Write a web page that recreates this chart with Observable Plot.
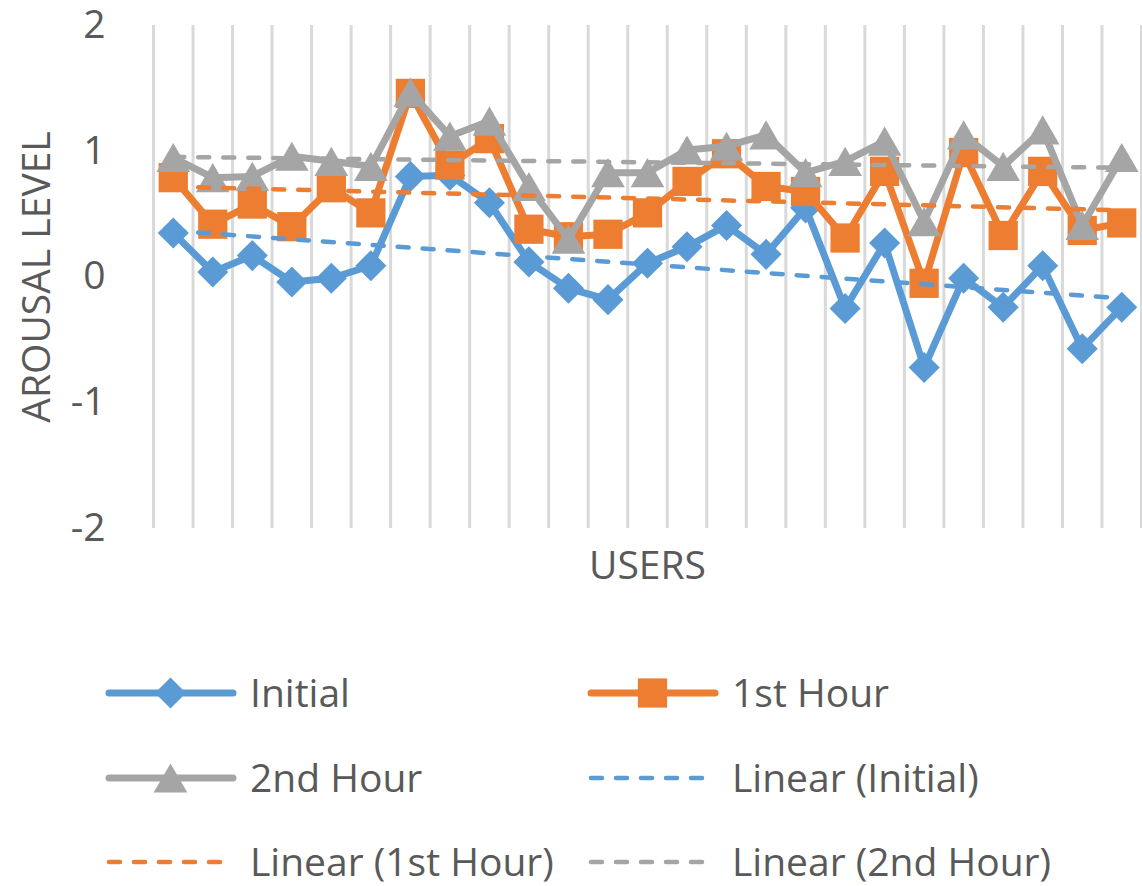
<!DOCTYPE html>
<html>
<head>
<meta charset="utf-8">
<script src="https://cdn.jsdelivr.net/npm/d3@7"></script>
<script src="https://cdn.jsdelivr.net/npm/@observablehq/plot@0.6"></script>
<style>
  html, body { margin: 0; padding: 0; background: #fff; }
  #chart { width: 1142px; height: 886px; position: relative; font-family: "Open Sans", sans-serif; color: #595959; }
  svg { display: block; }
</style>
</head>
<body>
<div id="chart"></div>
<script>
// ---- data ----
const users = d3.range(1, 26);
const yTicks = [-2, -1, 0, 1, 2];
const seriesNames = ["Initial", "1st Hour", "2nd Hour"];
const trendNames = ["Linear (Initial)", "Linear (1st Hour)", "Linear (2nd Hour)"];
const colors = ["#5B9BD5", "#ED7D31", "#A5A5A5"];
const symbols = ["diamond2", "square", "triangle"];

const initial = [0.35, 0.04, 0.17, -0.04, -0.01, 0.09, 0.80, 0.81, 0.59, 0.12, -0.09, -0.18, 0.11, 0.24, 0.41, 0.18, 0.55, -0.25, 0.27, -0.72, -0.01, -0.24, 0.09, -0.57, -0.24];
const firstHour = [0.79, 0.42, 0.58, 0.40, 0.71, 0.51, 1.46, 0.89, 1.10, 0.38, 0.32, 0.34, 0.51, 0.76, 0.98, 0.72, 0.68, 0.31, 0.84, -0.05, 0.99, 0.33, 0.84, 0.37, 0.43];
const secondHour = [0.95, 0.79, 0.80, 0.96, 0.92, 0.88, 1.47, 1.12, 1.24, 0.72, 0.30, 0.83, 0.83, 1.01, 1.04, 1.13, 0.83, 0.92, 1.08, 0.44, 1.13, 0.88, 1.17, 0.41, 0.95];

const allValues = [initial, firstHour, secondHour];
const tables = allValues.map(vals => users.map((u, i) => ({user: u, value: vals[i]})));
const gridX = d3.range(0.5, users.length + 1, 1);

// marker sizes
const markerR = [14, 16.5, 12.5];
const markerDy = [0, 0, 12.5 * 0.389];
const FS = 39;
const dash = "11,14";

const marks = [Plot.ruleX(gridX, {stroke: "#d9d9d9", strokeWidth: 3})];
tables.forEach((t, k) => {
  marks.push(Plot.line(t, {x: "user", y: "value", stroke: colors[k], strokeWidth: 7, strokeLinejoin: "round"}));
  marks.push(Plot.dot(t, {x: "user", y: "value", symbol: () => symbols[k], fill: colors[k], stroke: "none", r: markerR[k], dy: markerDy[k]}));
});
tables.forEach((t, k) => {
  marks.push(Plot.linearRegressionY(t, {x: "user", y: "value", stroke: colors[k], strokeWidth: 4.5, strokeDasharray: dash, strokeLinecap: "round", ci: 0}));
});
marks.push(Plot.axisY({ticks: yTicks, tickSize: 0, tickPadding: 48, tickFormat: d => String(d), label: null, fontSize: FS}));
marks.push(Plot.text(["USERS"], {frameAnchor: "bottom", dy: 50, fontSize: FS, fill: "#595959"}));
marks.push(Plot.text(["AROUSAL LEVEL"], {frameAnchor: "left", textAnchor: "middle", rotate: -90, dx: -116, fontSize: FS, fill: "#595959"}));

const plot = Plot.plot({
  width: 1142,
  height: 610,
  marginLeft: 153,
  marginRight: 1,
  marginTop: 25,
  marginBottom: 82,
  x: {domain: [0.5, users.length + 0.5], axis: null},
  y: {domain: [-2, 2]},
  style: {fontFamily: "Open Sans", color: "#595959", background: "#fff", overflow: "visible"},
  marks
});
document.getElementById("chart").appendChild(plot);

// ---- legend ----
const legendItems = [
  {label: seriesNames[0], color: colors[0], symbol: d3.symbolDiamond2, r: markerR[0], dashed: false, col: 0, row: 0},
  {label: seriesNames[1], color: colors[1], symbol: d3.symbolSquare, r: markerR[1], dashed: false, col: 1, row: 0},
  {label: seriesNames[2], color: colors[2], symbol: d3.symbolTriangle, r: markerR[2], dashed: false, col: 0, row: 1},
  {label: trendNames[0], color: colors[0], dashed: true, col: 1, row: 1},
  {label: trendNames[1], color: colors[1], dashed: true, col: 0, row: 2},
  {label: trendNames[2], color: colors[2], dashed: true, col: 1, row: 2}
];
const colX = [105, 587];
const rowY = [83, 168, 252];
const legend = d3.create("svg").attr("width", 1142).attr("height", 276)
  .style("font-family", "Open Sans").style("font-size", FS + "px");
legendItems.forEach(it => {
  const g = legend.append("g").attr("transform", `translate(${colX[it.col]},${rowY[it.row]})`);
  if (it.dashed) {
    g.append("line").attr("x1", 4).attr("x2", 124).attr("y1", 0).attr("y2", 0)
      .attr("stroke", it.color).attr("stroke-width", 4.5).attr("stroke-dasharray", dash).attr("stroke-linecap", "round");
  } else {
    g.append("line").attr("x1", 4).attr("x2", 128).attr("y1", 0).attr("y2", 0)
      .attr("stroke", it.color).attr("stroke-width", 7).attr("stroke-linecap", "round");
    const dy = it.symbol === d3.symbolTriangle ? it.r * 0.389 : 0;
    g.append("path").attr("d", d3.symbol(it.symbol, Math.PI * it.r * it.r)())
      .attr("transform", `translate(65.5,${dy})`).attr("fill", it.color);
  }
  g.append("text").attr("x", 145).attr("y", 0).attr("dy", "0.35em").attr("fill", "#595959").text(it.label);
});
document.getElementById("chart").appendChild(legend.node());
</script>
</body>
</html>
